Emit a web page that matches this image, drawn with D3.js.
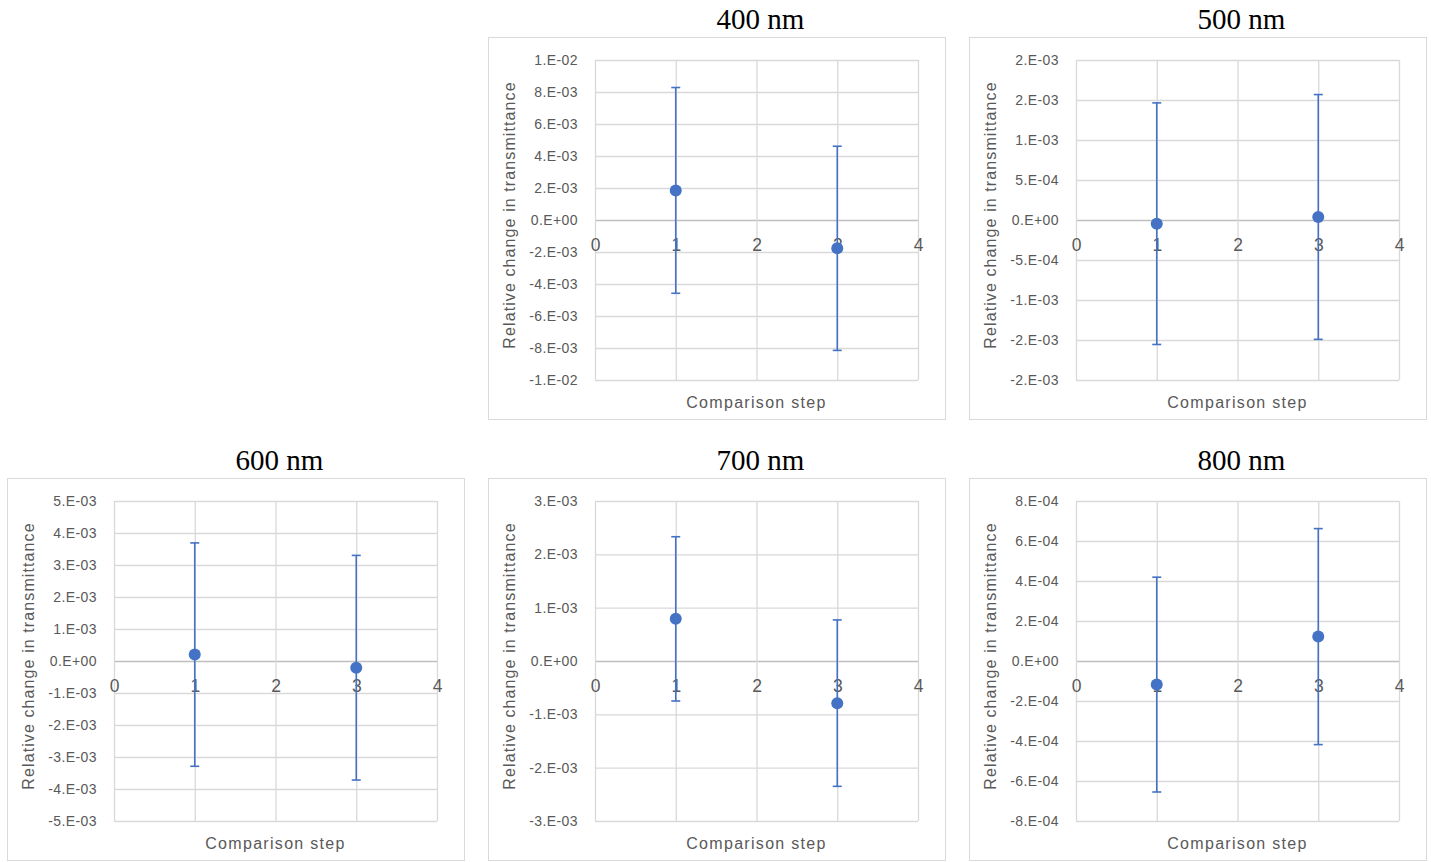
<!DOCTYPE html>
<html>
<head>
<meta charset="utf-8">
<script src="https://cdn.jsdelivr.net/npm/d3@7"></script>
<style>
  html, body { margin: 0; padding: 0; background: #ffffff; }
  svg { display: block; }
</style>
</head>
<body>
<svg id="chart" width="1431" height="862"></svg>
<script>
// Relative change in transmittance per comparison step, one panel per wavelength
const wavelengths = ["400 nm", "500 nm", "600 nm", "700 nm", "800 nm"];
const comparisonSteps = [1, 3];
const xTicks = [0, 1, 2, 3, 4];

const change400 = [1.85e-3, -1.77e-3];
const error400  = [6.43e-3, 6.38e-3];
const change500 = [-4.6e-5, 3.8e-5];
const error500  = [1.51e-3, 1.53e-3];
const change600 = [2.0e-4, -2.1e-4];
const error600  = [3.49e-3, 3.51e-3];
const change700 = [7.9e-4, -7.9e-4];
const error700  = [1.54e-3, 1.56e-3];
const change800 = [-1.18e-4, 1.22e-4];
const error800  = [5.37e-4, 5.4e-4];

// symmetric y-axis limit and tick step of each panel
const yLimits = [1e-2, 2e-3, 5e-3, 3e-3, 8e-4];
const yTickSteps = [2e-3, 5e-4, 1e-3, 1e-3, 2e-4];

const changes = [change400, change500, change600, change700, change800];
const errors = [error400, error500, error600, error700, error800];

// panel frames on the page
const frames = [
  { x: 488, y: 37 }, { x: 969, y: 37 },
  { x: 7, y: 478 }, { x: 488, y: 478 }, { x: 969, y: 478 }
];
const frameW = 458, frameH = 383;
const plot = { left: 107, top: 23, width: 323, height: 320 };

const blue = "#4472C4";
const textGray = "#595959";
const gridGray = "#d9d9d9";
const sansFont = "'Liberation Sans', Arial, sans-serif";

// Spreadsheet-style "0.E+00" number format
function sciFormat(v) {
  if (Math.abs(v) < 1e-15) return "0.E+00";
  const sign = v < 0 ? "-" : "";
  const a = Math.abs(v);
  let e = Math.floor(Math.log10(a) + 1e-9);
  let m = +(a / Math.pow(10, e)).toFixed(6);
  let r = Math.floor(m + 0.5);
  if (r >= 10) { r = 1; e += 1; }
  const es = (e < 0 ? "-" : "+") + String(Math.abs(e)).padStart(2, "0");
  return sign + r + ".E" + es;
}

const svg = d3.select("#chart");

wavelengths.forEach((label, i) => {
  const f = frames[i];
  const g = svg.append("g").attr("transform", `translate(${f.x},${f.y})`);

  g.append("rect")
    .attr("x", 0.5).attr("y", 0.5)
    .attr("width", frameW - 1).attr("height", frameH - 1)
    .attr("fill", "#fff").attr("stroke", gridGray).attr("stroke-width", 1);

  const lim = yLimits[i], st = yTickSteps[i];
  const n = Math.round(2 * lim / st);
  const yTicks = d3.range(n + 1).map(k => +(-lim + k * st).toPrecision(10));

  const x = d3.scaleLinear().domain([0, 4]).range([plot.left, plot.left + plot.width]);
  const y = d3.scaleLinear().domain([-lim, lim]).range([plot.top + plot.height, plot.top]);

  // horizontal gridlines with y tick labels
  const yAxis = g.append("g")
    .attr("transform", `translate(${plot.left},0)`)
    .call(d3.axisLeft(y).tickValues(yTicks).tickFormat(sciFormat)
      .tickSize(-plot.width).tickPadding(17));
  yAxis.select(".domain").remove();
  yAxis.selectAll(".tick line")
    .attr("stroke", d => Math.abs(d) < 1e-15 ? "#bfbfbf" : gridGray)
    .attr("stroke-width", 1.3);
  yAxis.selectAll(".tick text")
    .attr("fill", textGray).attr("font-family", sansFont).attr("font-size", 14)
    .attr("letter-spacing", 0.4);

  // vertical gridlines
  const xGrid = g.append("g")
    .attr("transform", `translate(0,${plot.top + plot.height})`)
    .call(d3.axisBottom(x).tickValues(xTicks).tickSize(-plot.height).tickFormat(""));
  xGrid.select(".domain").remove();
  xGrid.selectAll(".tick line").attr("stroke", gridGray).attr("stroke-width", 1.3);

  // x tick labels sit just under the zero line
  const xAxis = g.append("g")
    .attr("transform", `translate(0,${y(0)})`)
    .call(d3.axisBottom(x).tickValues(xTicks).tickFormat(d3.format("d"))
      .tickSize(0).tickPadding(19));
  xAxis.select(".domain").remove();
  xAxis.selectAll(".tick text")
    .attr("fill", textGray).attr("font-family", sansFont).attr("font-size", 17.5);

  // error bars
  const pts = comparisonSteps.map((s, k) => ({ s, v: changes[i][k], e: errors[i][k] }));
  const capHalf = 4.5;
  const bars = g.append("g").attr("stroke", blue).attr("stroke-width", 1.6).attr("fill", "none");
  pts.forEach(p => {
    bars.append("line")
      .attr("x1", x(p.s)).attr("x2", x(p.s))
      .attr("y1", y(p.v + p.e)).attr("y2", y(p.v - p.e));
    [p.v + p.e, p.v - p.e].forEach(val => {
      bars.append("line")
        .attr("x1", x(p.s) - capHalf).attr("x2", x(p.s) + capHalf)
        .attr("y1", y(val)).attr("y2", y(val));
    });
  });

  // markers
  g.append("g").selectAll("circle").data(pts).join("circle")
    .attr("cx", d => x(d.s)).attr("cy", d => y(d.v))
    .attr("r", 6).attr("fill", blue);

  // axis titles
  g.append("text")
    .attr("x", plot.left + plot.width / 2).attr("y", plot.top + plot.height + 28)
    .attr("text-anchor", "middle")
    .attr("fill", textGray).attr("font-family", sansFont).attr("font-size", 16)
    .attr("letter-spacing", 1.3)
    .text("Comparison step");
  g.append("text")
    .attr("transform", `translate(27,${plot.top + plot.height / 2 - 5}) rotate(-90)`)
    .attr("text-anchor", "middle")
    .attr("fill", textGray).attr("font-family", sansFont).attr("font-size", 16)
    .attr("letter-spacing", 1.1)
    .text("Relative change in transmittance");

  // panel title above the frame
  g.append("text")
    .attr("x", plot.left + plot.width / 2 + 4).attr("y", -8)
    .attr("text-anchor", "middle")
    .attr("fill", "#000").attr("font-family", "'Liberation Serif', 'Times New Roman', serif")
    .attr("font-size", 29)
    .text(label);
});
</script>
</body>
</html>
